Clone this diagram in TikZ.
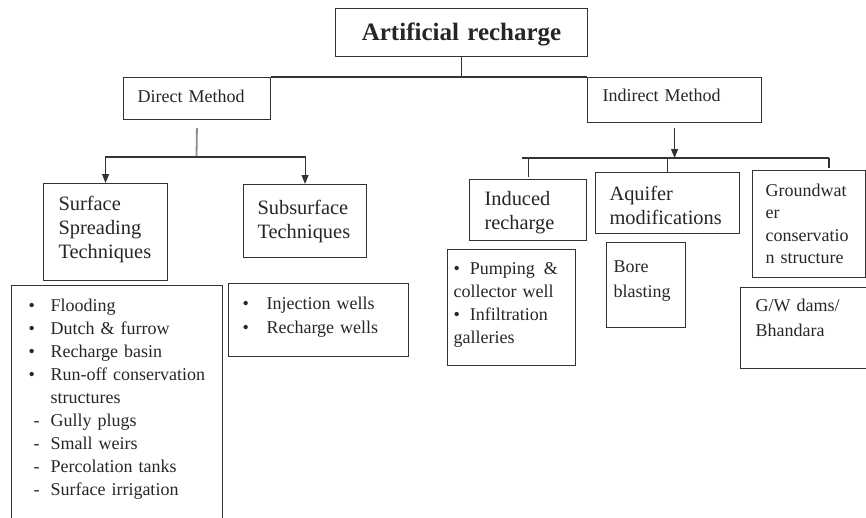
\documentclass[tikz,border=0pt]{standalone}
\usepackage{fontspec}
\setmainfont{Liberation Serif}
\usetikzlibrary{arrows.meta, positioning, calc}
\newcommand{\itembul}[1][22pt]{\makebox[#1][l]{\textbullet}}
\newcommand{\itemdash}[1][22pt]{\makebox[#1][l]{\hspace{5pt}-}}
\newcommand{\itemgap}[1][22pt]{\makebox[#1][l]{}}

\begin{document}
\begin{tikzpicture}[
   x=1pt, y=-1pt,
   box/.style={draw=black!80, line width=1.1pt, anchor=north west,
               inner ysep=0pt, align=left, text=black!85},
   head/.style={box, font=\fontsize{20.4}{24}\selectfont},
   list/.style={box, font=\fontsize{18}{23}\selectfont},
   line/.style={draw=black!80, line width=1.1pt},
   stem/.style={draw=black!45, line width=1.8pt},
   arr/.style={line, -{Triangle[length=9pt, width=7pt]}}]
 \path[use as bounding box, clip] (0,0) rectangle (866,517);
 % top level
 \node[box, align=center, text width=232pt, inner xsep=10pt, text height=32pt, text depth=16pt,
       font=\fontsize{25}{30}\selectfont] (art) at (335,8) {\textbf{Artificial recharge}};
 \node[list, text width=119pt, inner xsep=14pt, text height=25pt, text depth=17pt] (direct) at (123,77) {Direct Method};
 \node[list, text width=144pt, inner xsep=15pt, text height=24pt, text depth=21pt] (indirect) at (587,77) {Indirect Method};
 % direct methods
 \node[head, text width=94pt, inner xsep=15pt, text height=27pt, text depth=70pt] (surf) at (43,183)
   {Surface\\Spreading\\Techniques};
 \node[head, text width=95pt, inner xsep=14pt, text height=30pt, text depth=43pt] (subs) at (243,184)
   {Subsurface\\Techniques};
 \node[list, text width=177pt, inner xsep=17pt, text height=26pt, text depth=230pt] (surflist) at (11,285)
   {\itembul Flooding\\
    \itembul Dutch \& furrow\\
    \itembul Recharge basin\\
    \itembul Run-off conservation\\
    \itemgap structures\\
    \itemdash Gully plugs\\
    \itemdash Small weirs\\
    \itemdash Percolation tanks\\
    \itemdash Surface irrigation};
 \node[list, text width=152pt, inner xsep=14pt, text height=26pt, text depth=47pt,
       font=\fontsize{18}{24}\selectfont] (sublist) at (228,283)
   {\itembul[18pt] Injection wells\\
    \itembul[18pt] Recharge wells};
 % indirect methods
 \node[head, text width=87pt, inner xsep=15pt, text height=26pt, text depth=35pt] (induced) at (469,179)
   {Induced\\recharge};
 \node[head, text width=116pt, inner xsep=14pt, text height=28pt, text depth=33pt] (aquifer) at (595,172)
   {Aquifer\\modifications};
 \node[list, text width=87pt, inner xsep=13pt, text height=26pt, text depth=81pt,
       font=\fontsize{18}{22.3}\selectfont] (gwcons) at (752,170)
   {Groundwat\\er\\conservatio\\n structure};
 \node[list, text width=116pt, inner xsep=6pt, text height=25pt, text depth=91pt] (indlist) at (447,249)
   {\textbullet\hspace{10pt}Pumping\hspace{9pt}\&\\
    collector well\\
    \textbullet\hspace{10pt}Infiltration\\
    galleries};
 \node[list, text width=65pt, inner xsep=7pt, text height=30pt, text depth=55pt,
       font=\fontsize{18}{25}\selectfont] (bore) at (606,242)
   {Bore\\blasting};
 \node[list, text width=110pt, inner xsep=15pt, text height=24pt, text depth=57pt,
       font=\fontsize{18}{25}\selectfont] (gwdams) at (740,287)
   {G/W dams/\\Bhandara};
 % connectors
 \coordinate (dbus) at (196.5,157);
 \coordinate (ibus-w) at (522,158);
 \coordinate (ibus-e) at (829,158);
 \draw[line] (art.south) -- (art.south |- direct.north);
 \draw[line] (direct.north east) -- (indirect.north west);
 \draw[stem, shorten <=8pt] (direct.south) -- (dbus);
 \draw[arr] (dbus) -| (surf.north);
 \draw[arr] (dbus) -| (subs.north);
 \draw[arr, shorten <=5pt] (indirect.south) -- (indirect.south |- ibus-w);
 \draw[line] (ibus-w) -- (ibus-e);
 \draw[line, shorten >=2pt] (induced.north |- ibus-w) -- (induced.north);
 \draw[line] (aquifer.north |- ibus-w) -- (aquifer.north);
 \draw[line, shorten >=2pt] (ibus-e) -- (ibus-e |- gwcons.north);
\end{tikzpicture}
\end{document}
